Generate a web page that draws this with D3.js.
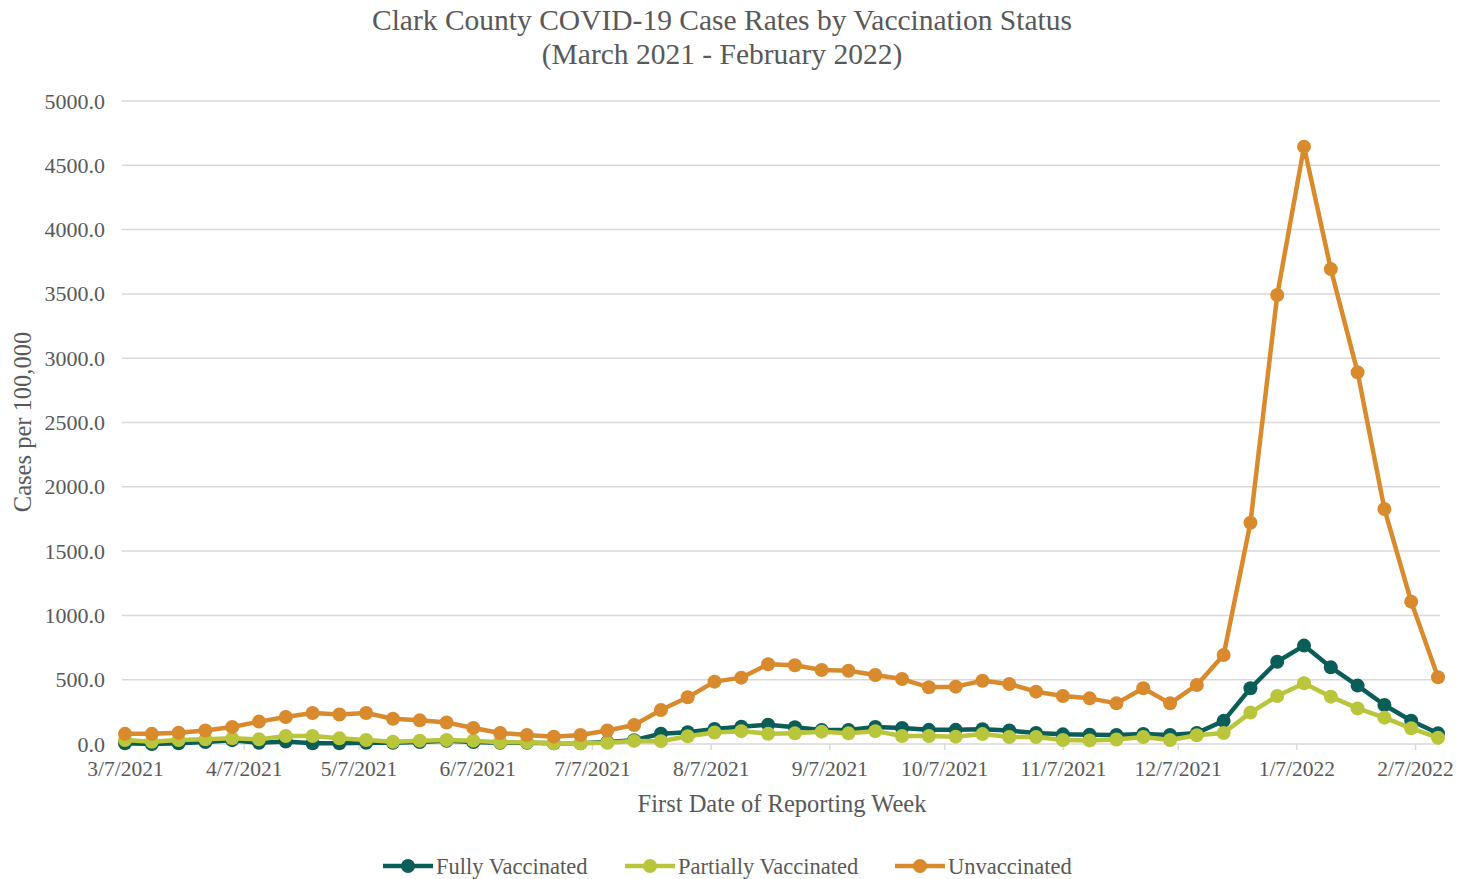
<!DOCTYPE html>
<html>
<head>
<meta charset="utf-8">
<script src="https://cdn.jsdelivr.net/npm/d3@7"></script>
<style>
  html, body { margin: 0; padding: 0; background: #ffffff; }
  svg { display: block; }
  text { font-family: "Liberation Serif", "Times New Roman", serif; fill: #595959; }
</style>
</head>
<body>
<svg id="chart" width="1462" height="879"></svg>
<script>
// Weekly reporting periods (first date of each week)
const weeks = [
  "2021-03-07","2021-03-14","2021-03-21","2021-03-28","2021-04-04","2021-04-11","2021-04-18","2021-04-25",
  "2021-05-02","2021-05-09","2021-05-16","2021-05-23","2021-05-30","2021-06-06","2021-06-13","2021-06-20",
  "2021-06-27","2021-07-04","2021-07-11","2021-07-18","2021-07-25","2021-08-01","2021-08-08","2021-08-15",
  "2021-08-22","2021-08-29","2021-09-05","2021-09-12","2021-09-19","2021-09-26","2021-10-03","2021-10-10",
  "2021-10-17","2021-10-24","2021-10-31","2021-11-07","2021-11-14","2021-11-21","2021-11-28","2021-12-05",
  "2021-12-12","2021-12-19","2021-12-26","2022-01-02","2022-01-09","2022-01-16","2022-01-23","2022-01-30",
  "2022-02-06","2022-02-13"
];

// Cases per 100,000 by vaccination status
const fullyVaccinated = [
  5, 0, 5, 15, 30, 10, 20, 5,
  5, 10, 10, 15, 25, 15, 10, 10,
  5, 5, 15, 30, 80, 92, 117, 135,
  150, 130, 109, 109, 132, 125, 110, 110,
  115, 105, 85, 75, 72, 70, 78, 70,
  85, 180, 433, 640, 765, 596, 454, 303,
  181, 83
];
const partiallyVaccinated = [
  31, 18, 31, 36, 44, 36, 62, 62,
  44, 31, 18, 26, 31, 26, 13, 13,
  5, 5, 10, 24, 22, 60, 90, 100,
  80, 83, 96, 83, 100, 62, 62, 57,
  77, 55, 55, 31, 28, 35, 55, 31,
  68, 85, 244, 373, 472, 368, 277, 205,
  122, 49
];
const unvaccinated = [
  79, 79, 87, 105, 132, 174, 210, 241,
  229, 241, 196, 184, 167, 125, 86, 70,
  57, 70, 105, 148, 264, 363, 485, 516,
  620, 612, 575, 570, 537, 505, 441, 446,
  492, 467, 407, 373, 355, 316, 433, 316,
  459, 692, 1721, 3491, 4645, 3693, 2890, 1827,
  1107, 519
];

const seriesNames = ["Fully Vaccinated", "Partially Vaccinated", "Unvaccinated"];
const seriesColors = ["#0b5d58", "#b9c53a", "#d98a2d"];

const xTickDates = [
  "2021-03-07","2021-04-07","2021-05-07","2021-06-07","2021-07-07","2021-08-07",
  "2021-09-07","2021-10-07","2021-11-07","2021-12-07","2022-01-07","2022-02-07"
];
const yTicks = [0, 500, 1000, 1500, 2000, 2500, 3000, 3500, 4000, 4500, 5000];

const parse = d3.timeParse("%Y-%m-%d");
const fmtTick = d => `${d.getMonth() + 1}/${d.getDate()}/${d.getFullYear()}`;

const svg = d3.select("#chart");

const plot = { left: 122, right: 1440, top: 101, bottom: 744 };

const x = d3.scaleTime()
  .domain([parse("2021-03-07"), parse("2022-02-13")])
  .range([125, 1438]);

const y = d3.scaleLinear()
  .domain([0, 5000])
  .range([plot.bottom, plot.top]);

// Title
const title = svg.append("g").attr("text-anchor", "middle");
title.append("text").attr("x", 722).attr("y", 30).attr("font-size", 29.5)
  .text("Clark County COVID-19 Case Rates by Vaccination Status");
title.append("text").attr("x", 722).attr("y", 64).attr("font-size", 29.5)
  .text("(March 2021 - February 2022)");

// Horizontal gridlines
svg.append("g")
  .selectAll("line")
  .data(yTicks.filter(v => v > 0))
  .join("line")
  .attr("x1", plot.left).attr("x2", plot.right)
  .attr("y1", d => y(d)).attr("y2", d => y(d))
  .attr("stroke", "#d9d9d9").attr("stroke-width", 1.5);

// Y axis
const yAxis = svg.append("g")
  .attr("transform", `translate(${plot.left},0)`)
  .call(d3.axisLeft(y).tickValues(yTicks).tickFormat(d3.format(".1f")).tickSize(0).tickPadding(17));
yAxis.select(".domain").remove();
yAxis.selectAll("text").attr("font-size", 22).attr("font-family", "Liberation Serif").attr("fill", "#595959");

// X axis
const xAxis = svg.append("g")
  .attr("transform", `translate(0,${plot.bottom})`)
  .call(d3.axisBottom(x).tickValues(xTickDates.map(parse)).tickFormat(fmtTick).tickSize(6).tickPadding(11));
xAxis.select(".domain")
  .attr("d", `M${plot.left},0H${plot.right}`)
  .attr("stroke", "#d9d9d9").attr("stroke-width", 1.5);
xAxis.selectAll(".tick line").attr("stroke", "#d9d9d9").attr("stroke-width", 1.5);
xAxis.selectAll("text").attr("font-size", 21.5).attr("font-family", "Liberation Serif").attr("fill", "#595959");

// Axis titles
svg.append("text")
  .attr("transform", "translate(31,422) rotate(-90)")
  .attr("text-anchor", "middle").attr("font-size", 24.5)
  .text("Cases per 100,000");
svg.append("text")
  .attr("x", 782).attr("y", 812)
  .attr("text-anchor", "middle").attr("font-size", 24.5)
  .text("First Date of Reporting Week");

// Series
const data = [fullyVaccinated, partiallyVaccinated, unvaccinated].map((vals, i) => ({
  name: seriesNames[i],
  color: seriesColors[i],
  points: weeks.map((w, j) => ({ date: parse(w), value: vals[j] }))
}));

const line = d3.line().x(d => x(d.date)).y(d => y(d.value));

const seriesG = svg.append("g")
  .selectAll("g")
  .data(data)
  .join("g");

seriesG.append("path")
  .attr("d", d => line(d.points))
  .attr("fill", "none")
  .attr("stroke", d => d.color)
  .attr("stroke-width", 4.5)
  .attr("stroke-linejoin", "round");

seriesG.selectAll("circle")
  .data(d => d.points.map(p => ({ ...p, color: d.color })))
  .join("circle")
  .attr("cx", d => x(d.date))
  .attr("cy", d => y(d.value))
  .attr("r", 7)
  .attr("fill", d => d.color);

// Legend
const legendItems = [
  { x: 383, name: seriesNames[0], color: seriesColors[0] },
  { x: 625, name: seriesNames[1], color: seriesColors[1] },
  { x: 895, name: seriesNames[2], color: seriesColors[2] }
];
const legend = svg.append("g")
  .selectAll("g")
  .data(legendItems)
  .join("g")
  .attr("transform", d => `translate(${d.x},866)`);
legend.append("line")
  .attr("x1", 0).attr("x2", 50).attr("y1", 0).attr("y2", 0)
  .attr("stroke", d => d.color).attr("stroke-width", 4.5);
legend.append("circle")
  .attr("cx", 25).attr("cy", 0).attr("r", 7)
  .attr("fill", d => d.color);
legend.append("text")
  .attr("x", 53).attr("y", 8)
  .attr("font-size", 22.5)
  .text(d => d.name);
</script>
</body>
</html>
